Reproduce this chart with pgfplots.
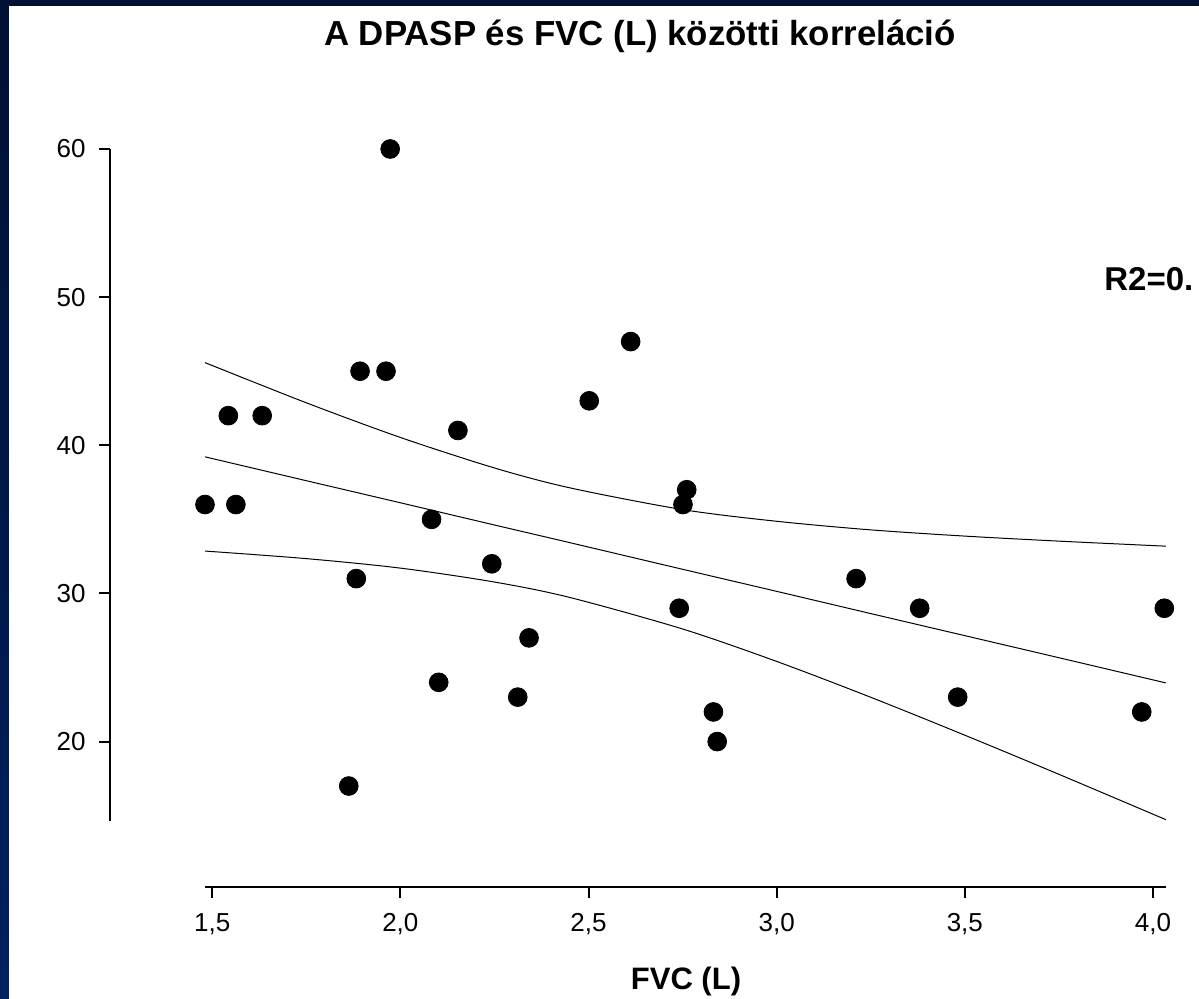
\documentclass[border=0pt]{standalone}
\usepackage{pgfplots}
\pgfplotsset{compat=1.18}
\usepackage{pgfplotstable}
\usepackage{fontspec}
\setmainfont{Liberation Sans}
\definecolor{navytop}{RGB}{0,16,50}
\definecolor{navybot}{RGB}{0,32,96}

\pgfplotstableread{
x y
1.481 36
1.563 36
1.543 42
1.633 42
1.893 45
1.962 45
1.973 60
1.883 31
1.863 17
2.083 35
2.102 24
2.153 41
2.243 32
2.312 23
2.342 27
2.502 43
2.612 47
2.741 29
2.751 36
2.761 37
2.832 22
2.842 20
3.211 31
3.380 29
3.481 23
3.970 22
4.030 29
}\datatable

\pgfplotstableread{
x fit upper lower
1.481 39.22 45.58 32.86
1.75  37.61 42.87 32.35
2.00  36.12 40.53 31.71
2.25  34.62 38.47 30.77
2.45  33.43 37.13 29.73
2.75  31.63 35.66 27.60
3.00  30.14 34.87 25.41
3.25  28.64 34.29 22.99
3.50  27.15 33.87 20.43
3.75  25.66 33.53 17.79
4.034 23.96 33.19 14.73
}\bandtable

\begin{document}
\begin{tikzpicture}
\useasboundingbox (0,0) rectangle (599.5pt,499.5pt);
\clip (0,0) rectangle (599.5pt,499.5pt);
\shade[top color=navytop,bottom color=navybot] (0,0) rectangle (599.5pt,499.5pt);
\fill[white] (4.5pt,0) rectangle (599.5pt,496.5pt);

% data
\begin{axis}[at={(102.5pt,89pt)}, anchor=south west, scale only axis,
  width=480.5pt, height=336pt,
  xmin=1.481, xmax=4.0345, ymin=14.64, ymax=60,
  hide axis, clip=false]
\addplot[black, line width=0.5pt, smooth] table[x=x, y=upper] {\bandtable};
\addplot[black, line width=0.5pt, smooth] table[x=x, y=fit] {\bandtable};
\addplot[black, line width=0.5pt, smooth] table[x=x, y=lower] {\bandtable};
\addplot[only marks, mark=*, mark size=4.7pt, black] table[x=x, y=y] {\datatable};
\end{axis}

% y axis
\begin{axis}[at={(55pt,89pt)}, anchor=south west, scale only axis,
  width=10pt, height=336pt,
  xmin=0, xmax=1, ymin=14.64, ymax=60,
  axis x line=none, axis y line=left,
  axis line style={line width=1pt, -},
  ytick={20,30,40,50,60},
  tick align=outside, major tick length=5.5pt,
  tick style={line width=1pt, black},
  /pgf/number format/assume math mode=true,
  yticklabel style={font=\fontsize{13}{15}\selectfont, inner sep=0pt},
  yticklabel shift=6.5pt]
\end{axis}

% x axis
\begin{axis}[at={(102.5pt,56pt)}, anchor=south west, scale only axis,
  width=480.5pt, height=10pt,
  xmin=1.481, xmax=4.0345, ymin=0, ymax=1,
  axis y line=none, axis x line=bottom,
  axis line style={line width=1pt, -},
  xtick={1.5,2.0,2.5,3.0,3.5,4.0},
  xticklabels={{1,5},{2,0},{2,5},{3,0},{3,5},{4,0}},
  tick align=outside, major tick length=5.5pt,
  tick style={line width=1pt, black},
  xticklabel style={font=\fontsize{13}{15}\selectfont, inner sep=0pt},
  xticklabel shift=7.5pt]
\end{axis}

\node[anchor=base, font=\bfseries\fontsize{17.4}{20}\selectfont] at (320pt,476.5pt) {A DPASP és FVC (L) közötti korreláció};
\node[anchor=base, font=\bfseries\fontsize{15.5}{18}\selectfont] at (343pt,4.5pt) {FVC (L)};
\node[anchor=base west, font=\bfseries\fontsize{16.5}{18}\selectfont, inner sep=0pt] at (552pt,354pt) {R2=0.};
\end{tikzpicture}
\end{document}
